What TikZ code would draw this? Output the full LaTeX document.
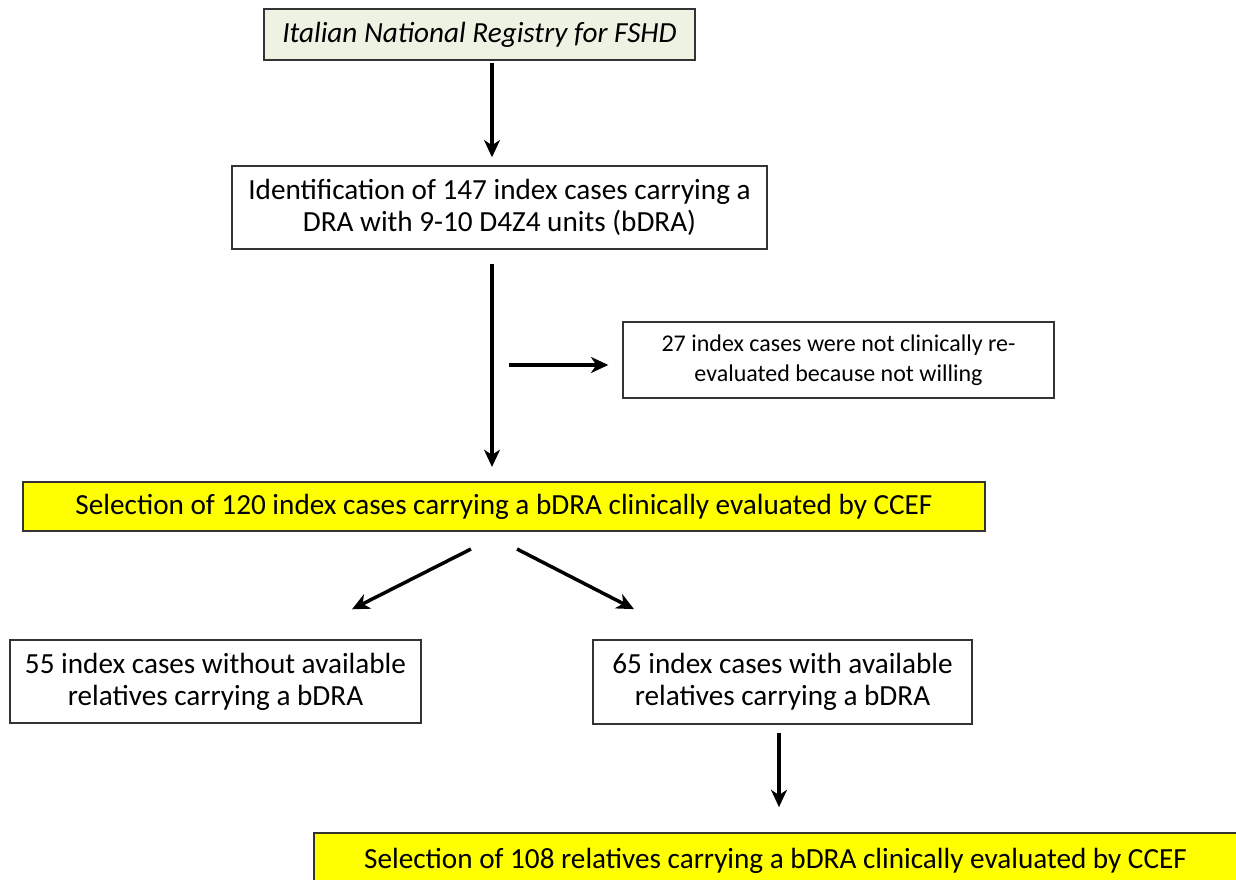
\documentclass[tikz,border=0pt]{standalone}
\usepackage{fontspec}
\setmainfont{Carlito}
\usetikzlibrary{arrows.meta,calc}
\definecolor{regfill}{HTML}{EEF2E3}
\definecolor{selyellow}{HTML}{FFFF00}

\begin{document}
\begin{tikzpicture}[x=0.75pt, y=-0.75pt, >={Stealth[length=13pt,width=12pt,inset=4pt]},
  box/.style={draw=black!80, line width=1.3pt, align=center, inner sep=0pt,
    font=\fontsize{21.9}{24}\selectfont},
  flow/.style={->, line width=2.6pt}]
\clip (0,0) rectangle (1236,880);

\node[box, fill=regfill, minimum width=323pt, minimum height=38pt, font=\fontsize{21.9}{24}\selectfont\itshape] (reg) at (479.5,34.5) {Italian National Registry for FSHD};
\node[box, minimum width=401pt, minimum height=62pt] (ident) at (499.5,207.5) {Identification of 147 index cases carrying a\\DRA with 9-10 D4Z4 units (bDRA)};
\node[box, minimum width=323pt, minimum height=57pt, font=\fontsize{18}{22.5}\selectfont] (notw) at (838.5,360) {27 index cases were not clinically re-\\evaluated because not willing};
\node[box, fill=selyellow, minimum width=721pt, minimum height=37pt] (sel) at (504,506.5) {Selection of 120 index cases carrying a bDRA clinically evaluated by CCEF};
\node[box, minimum width=308pt, minimum height=62pt] (without) at (215.5,681.5) {55 index cases without available\\relatives carrying a bDRA};
\node[box, minimum width=284pt, minimum height=63pt] (with) at (782.5,682) {65 index cases with available\\relatives carrying a bDRA};
\node[box, fill=selyellow, minimum width=692pt, minimum height=42pt] (rel) at (775.5,861) {Selection of 108 relatives carrying a bDRA clinically evaluated by CCEF};

\draw[flow] ($(reg.south)+(12.5,2)$) -- ($(ident.north)+(-7.5,-8)$);
\draw[flow] ($(ident.south)+(-7.5,14)$) -- ($(sel.north)+(-12,-14)$);
\draw[flow] ($(notw.west)+(-113,5)$) -- ($(notw.west)+(-14,5)$);
\draw[flow] ($(sel.south)+(-33,17)$) -- ($(without.north)+(136.5,-30)$);
\draw[flow] ($(sel.south)+(13,17)$) -- ($(with.north)+(-148.5,-30)$);
\draw[flow] ($(with.south)+(-3.5,8)$) -- ($(rel.north)+(3.5,-25)$);
\end{tikzpicture}
\end{document}
